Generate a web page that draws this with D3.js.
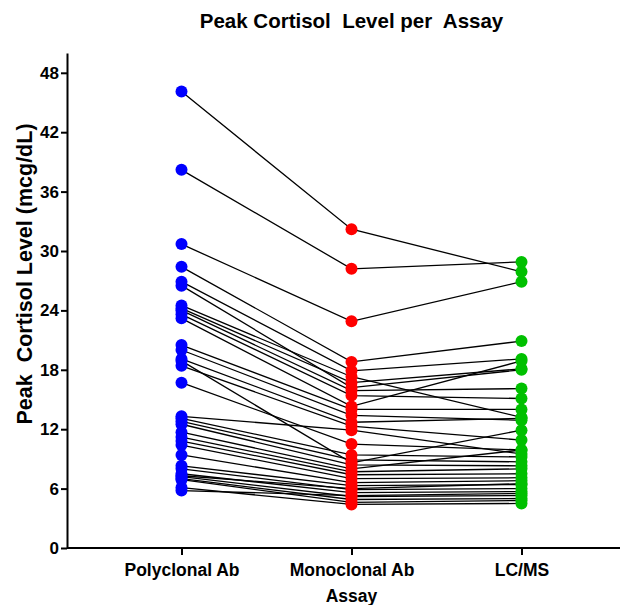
<!DOCTYPE html>
<html>
<head>
<meta charset="utf-8">
<script src="https://cdn.jsdelivr.net/npm/d3@7"></script>
<style>
  body { margin: 0; background: #fff; }
  text { font-family: "Liberation Sans", Arial, sans-serif; font-weight: bold; white-space: pre; }
</style>
</head>
<body>
<div id="chart"></div>
<script>
// assay categories
const assays = ["Polyclonal Ab", "Monoclonal Ab", "LC/MS"];
const assayColors = ["#0000ff", "#ff0000", "#00c000"];
const yTicks = [0, 6, 12, 18, 24, 30, 36, 42, 48];

// peak cortisol per subject (mcg/dL), same order in every array
const polyclonal = [46.1, 38.2, 30.7, 28.4, 26.9, 26.5, 24.5, 24.2, 24.0, 23.6, 23.2, 20.5, 20.0, 19.1, 18.9, 18.4, 16.7,
  13.3, 13.1, 12.8, 12.5, 11.7, 11.2, 10.8, 10.4, 9.4, 8.3, 8.0, 7.5, 7.2, 7.0, 6.9, 6.1, 5.8, 7.3];
const monoclonal = [32.2, 28.2, 22.9, 18.8, 17.9, 16.2, 17.3, 16.7, 15.9, 15.4, 14.3, 14.0, 13.4, 12.7, 8.6, 12.3, 10.5,
  11.9, 9.4, 8.9, 8.4, 8.0, 7.7, 7.4, 7.0, 6.6, 6.3, 5.9, 5.6, 5.2, 4.9, 4.6, 4.4, 5.3, 6.0];
const lcms = [27.9, 28.9, 26.9, 20.9, 19.1, 18.0, 13.2, 18.1, 16.1, 15.1, 18.9, 14.0, 12.9, 13.1, 11.9, 10.9, 9.9,
  9.5, 9.2, 8.7, 8.3, 9.9, 8.0, 7.5, 7.1, 6.8, 6.4, 6.0, 5.7, 5.3, 5.0, 4.8, 4.5, 5.5, 6.5];

const width = 636, height = 605;
const svg = d3.select("#chart").append("svg")
  .attr("width", width)
  .attr("height", height);

const x = d3.scalePoint()
  .domain(assays)
  .range([181.5, 521.5]);

const y = d3.scaleLinear()
  .domain([0, 50])
  .range([548, 53]);

const subjects = polyclonal.map((p, i) => [p, monoclonal[i], lcms[i]]);

// connecting lines
const line = d3.line()
  .x((d, j) => x(assays[j]))
  .y(d => y(d));

svg.append("g")
  .selectAll("path")
  .data(subjects)
  .join("path")
  .attr("d", line)
  .attr("fill", "none")
  .attr("stroke", "#000")
  .attr("stroke-width", 1.3);

// dots
assays.forEach((a, j) => {
  svg.append("g")
    .selectAll("circle")
    .data(subjects)
    .join("circle")
    .attr("cx", x(a))
    .attr("cy", d => y(d[j]))
    .attr("r", 6)
    .attr("fill", assayColors[j]);
});

// y axis
const yAxis = svg.append("g")
  .attr("transform", "translate(67,0)")
  .call(d3.axisLeft(y).tickValues(yTicks).tickSize(6).tickPadding(2).tickSizeOuter(0));
yAxis.selectAll("text").attr("font-size", 17).attr("fill", "#000");

// x axis
const xAxis = svg.append("g")
  .attr("transform", "translate(0,548)")
  .call(d3.axisBottom(x).tickSize(7).tickPadding(9).tickSizeOuter(0));
xAxis.select(".domain").remove();
xAxis.selectAll("text").attr("font-size", 17.5).attr("fill", "#000");

svg.append("line")
  .attr("x1", 67).attr("x2", 620)
  .attr("y1", 548).attr("y2", 548)
  .attr("stroke", "#000");

svg.selectAll(".domain, .tick line").attr("stroke", "#000").attr("stroke-width", 2);
svg.selectAll("line").attr("stroke-width", 2);

// titles
svg.append("text")
  .attr("x", 351.5).attr("y", 28)
  .attr("text-anchor", "middle")
  .attr("font-size", 20.5)
  .text("Peak Cortisol  Level per  Assay");

svg.append("text")
  .attr("x", 351.5).attr("y", 602)
  .attr("text-anchor", "middle")
  .attr("font-size", 17.5)
  .text("Assay");

svg.append("text")
  .attr("transform", "translate(32,274) rotate(-90)")
  .attr("text-anchor", "middle")
  .attr("font-size", 21.5)
  .text("Peak  Cortisol Level (mcg/dL)");
</script>
</body>
</html>
